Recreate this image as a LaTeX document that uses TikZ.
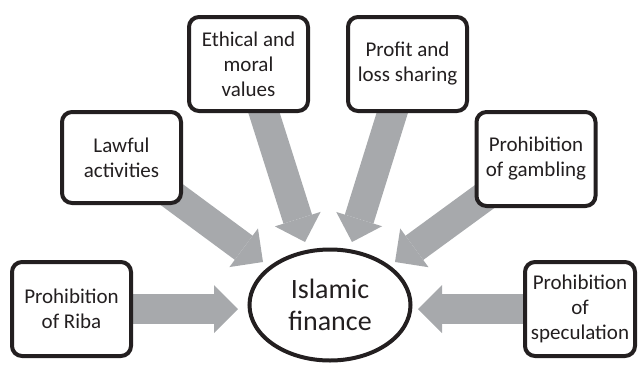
\documentclass[tikz,border=0pt]{standalone}
\usepackage{fontspec}
\setmainfont{Carlito}
\usetikzlibrary{arrows.meta,shapes.geometric,backgrounds}
\definecolor{bord}{HTML}{231F20}
\definecolor{agrey}{HTML}{A7A9AC}
\begin{document}
\begin{tikzpicture}[x=1pt,y=-1pt,
  box/.style={draw=bord, line width=4pt, rounded corners=10pt, fill=white,
    minimum width=119pt, minimum height=94pt, align=center, text=bord,
    inner sep=2pt, font=\fontsize{21}{25}\selectfont},
  fin/.style={ellipse, draw=bord, line width=4pt, fill=white,
    minimum width=161pt, minimum height=111pt, align=center, text=bord,
    inner sep=0pt, font=\fontsize{28}{32}\selectfont},
  blk/.style={draw=agrey, line width=30pt,
    -{Triangle[length=24pt,width=48pt,line width=0pt]}}]
\useasboundingbox (0,0) rectangle (640,365);
\node[box] (riba) at (71.5,309) {Prohibition\\of Riba};
\node[box, minimum height=91pt] (lawful) at (121.5,157.5) {Lawful\\activities};
\node[box] (ethical) at (248.5,64) {Ethical and\\moral\\values};
\node[box] (profit) at (407.5,64) {Profit and\\loss sharing};
\node[box] (gambling) at (536,159) {Prohibition\\of gambling};
\node[box, minimum width=110pt] (spec) at (580,309) {Prohibition\\of\\speculation};
\node[fin] (fin) at (330,305) {Islamic\\finance};
\coordinate (tRiba) at (238,309);
\coordinate (tLaw) at (263,262);
\coordinate (tEth) at (305,242);
\coordinate (tPro) at (352,242);
\coordinate (tGam) at (395,262);
\coordinate (tSpec) at (418,309);
\begin{pgfonlayer}{background}
\draw[blk] (riba.center) -- (tRiba);
\draw[blk] (lawful.center) -- (tLaw);
\draw[blk] (ethical.center) -- (tEth);
\draw[blk] (profit.center) -- (tPro);
\draw[blk] (gambling.center) -- (tGam);
\draw[blk] (spec.center) -- (tSpec);
\end{pgfonlayer}
\end{tikzpicture}
\end{document}
